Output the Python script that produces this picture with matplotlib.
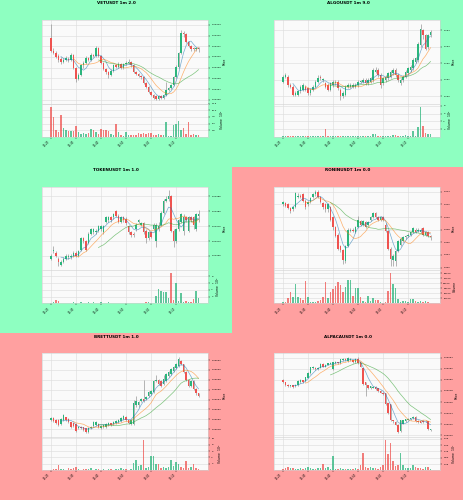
import numpy as np
import pandas as pd
import matplotlib
matplotlib.use("Agg")
import matplotlib.pyplot as plt
from matplotlib.patches import Rectangle
from matplotlib.ticker import MultipleLocator, FormatStrFormatter

W, H = 464, 500
PW, PH = W / 2, H / 3

UP, DOWN = "#2bb57c", "#ef5350"
WICK = "#8c8c8c"
BG_GOOD, BG_BAD = "#8effc1", "#ffa0a0"
MAV = (5, 10, 20)
MAV_COLORS = ("#1f77b4", "#ff7f0e", "#2ca02c")

tick_pos = [0, 10, 20, 30, 40, 50]
times = ["12:20", "12:30", "12:40", "12:50", "13:00", "13:10"]

# prices are stored as integer steps above a base price (see PANELS)
vet_open = [58,46,44,41,38,35,37,38,37,42,30,19,23,32,34,39,37,42,41,48,41,34,29,26,23,27,32,31,33,30,33,34,35,32,26,24,22,21,16,12,7,4,3,1,3,2,4,9,11,14,21,31,44,62,61,54,50,48,47,48]
vet_close = [46,44,40,37,35,37,39,37,42,30,19,23,32,34,39,37,42,41,48,41,34,29,26,23,27,32,31,33,30,33,34,35,32,26,24,22,21,16,12,7,4,2,1,3,2,4,9,11,14,21,31,44,62,61,54,50,47,47,48,47]
vet_high = [71,48,46,43,40,39,41,40,44,43,31,25,33,36,41,40,44,43,50,49,42,35,30,27,29,33,33,35,34,34,36,38,36,33,27,25,23,22,17,13,8,5,4,4,4,5,17,12,15,22,32,45,65,64,62,55,51,49,49,49]
vet_low = [45,43,39,35,33,34,36,35,36,29,17,18,22,30,33,36,36,40,40,40,33,28,24,20,22,26,30,30,29,29,32,33,31,25,23,21,19,15,11,6,3,1,0,0,1,1,3,8,10,13,20,30,43,59,53,49,46,46,46,45]
vet_vol = [11.4,7.5,2.5,1.9,8.1,3.4,2.5,2.1,2.2,2.1,4.0,1.9,1.2,1.5,1.2,1.5,3.1,2.7,1.9,1.2,3.1,2.7,2.7,2.1,1.0,0.9,4.7,1.9,0.6,0.3,1.9,0.6,0.9,0.9,0.9,1.6,1.2,1.5,1.2,1.6,1.5,0.9,0.6,1.2,0.6,0.6,5.6,0.5,0.3,4.4,5.0,6.0,2.5,3.4,1.0,5.5,0.6,1.0,0.9,0.7]

algo_open = [9,12,12,7,6,1,1,3,4,6,5,2,4,6,9,12,10,8,7,4,7,8,9,4,0,1,6,6,6,6,7,9,9,10,8,9,10,15,16,13,8,10,11,12,14,16,13,8,10,12,14,16,17,21,22,31,40,37,30,37]
algo_close = [12,13,7,6,1,2,3,6,7,4,2,4,6,9,11,11,10,6,4,8,9,9,5,0,2,6,7,7,7,7,9,9,10,8,10,11,16,16,13,7,11,12,14,15,16,13,10,10,12,15,17,18,22,23,32,41,37,29,37,39]
algo_high = [13,14,13,8,7,3,4,7,8,7,6,5,7,10,13,13,11,9,8,9,10,10,10,5,3,7,8,8,8,8,10,10,11,11,11,12,17,18,17,14,12,13,15,16,17,17,14,11,13,16,18,19,23,24,33,44,41,38,38,40]
algo_low = [8,11,6,5,0,0,0,2,3,3,1,1,3,5,8,10,9,5,3,3,6,7,4,-2,-1,0,5,5,5,5,6,8,8,7,7,8,9,14,12,5,7,9,10,11,13,12,9,7,9,11,13,15,16,20,21,30,35,28,29,36]
algo_vol = [0.2,0.1,0.2,0.1,0.3,0.2,0.1,0.2,0.1,0.1,0.2,0.3,0.2,0.3,0.2,0.1,0.2,2.0,0.2,0.1,0.3,0.2,0.2,0.3,0.1,0.1,0.2,0.1,0.1,0.2,0.2,0.1,0.1,0.2,0.1,0.2,0.8,0.6,0.3,0.2,0.1,0.2,0.2,0.1,0.4,0.4,0.3,0.2,0.1,0.5,0.3,0.2,1.4,0.3,2.5,7.8,2.8,0.9,0.8,0.6]

token_open = [8,13,12,8,4,6,8,9,9,10,12,10,14,22,20,19,25,26,26,27,28,26,33,34,36,36,40,37,33,36,35,30,26,25,28,33,31,32,27,22,26,28,20,28,31,39,47,48,50,27,20,28,33,27,36,27,36,36,28,37]
token_close = [10,14,10,6,6,8,10,10,10,12,10,13,22,20,14,25,28,28,27,30,30,30,36,36,34,38,37,33,36,34,32,26,24,24,31,34,32,26,22,26,23,31,31,30,39,47,48,50,27,20,28,34,38,36,34,36,34,31,38,38]
token_high = [11,17,13,9,7,9,11,11,11,13,13,14,23,23,21,26,29,29,28,31,31,31,37,37,37,39,41,38,37,37,36,31,27,26,32,35,33,33,28,27,27,32,32,33,40,48,50,54,51,28,29,35,39,38,37,37,37,37,39,41]
token_low = [7,12,9,3,3,5,7,8,8,9,9,9,13,19,13,18,24,25,25,26,27,25,32,33,33,35,36,32,32,33,31,25,23,23,27,32,30,25,19,21,22,27,16,27,30,38,46,47,26,16,19,27,32,24,33,26,33,28,27,33]
token_vol = [0.1,0.3,1.1,0.8,0.1,0.2,0.1,0.1,0.2,0.3,0.2,0.1,0.3,0.2,0.2,0.3,0.2,0.3,0.2,0.2,0.3,0.1,0.2,0.3,0.2,0.1,0.1,0.2,0.1,0.1,0.2,0.1,0.2,0.1,0.1,0.1,0.1,0.1,0.3,0.5,0.2,0.1,2.3,4.3,3.8,3.3,3.3,1.6,8.9,0.9,6.0,0.7,3.0,0.5,0.8,0.5,0.5,1.2,3.8,1.7]

ronin_open = [50,51,50,47,46,48,56,57,58,53,50,52,56,58,60,56,51,50,46,48,40,32,26,17,14,5,17,29,30,28,32,37,34,36,34,38,40,43,40,38,40,34,29,15,6,5,13,18,21,24,25,26,28,30,29,28,31,26,28,25]
ronin_close = [52,49,47,45,48,59,57,56,53,48,52,55,58,60,56,52,48,46,50,38,32,25,15,14,6,17,30,30,29,32,38,34,37,32,36,40,43,40,38,40,38,29,15,7,9,13,21,23,24,25,26,28,31,28,30,30,26,28,25,24]
ronin_high = [53,52,51,48,49,60,59,58,59,54,53,56,59,61,61,57,52,51,51,49,41,33,27,18,15,18,31,31,31,33,41,38,38,37,37,41,44,44,41,41,41,35,30,16,11,14,22,24,25,26,27,29,32,31,31,31,32,29,29,26]
ronin_low = [49,48,46,43,45,47,55,55,52,46,49,51,55,57,55,51,46,44,44,37,30,24,14,12,3,4,16,28,28,27,31,33,33,31,33,37,39,39,37,37,37,28,14,1,1,1,12,17,20,23,24,25,27,27,28,27,25,25,24,22]
ronin_vol = [3300,2000,10000,22000,13300,39300,12000,10000,6700,45300,13300,2000,2000,3300,5300,6700,12000,42000,10000,22000,28700,34000,43300,36700,23300,32000,47300,46000,15300,30000,30000,12000,5300,3300,15300,5300,10000,7300,7300,2000,700,2000,24000,60000,38700,30000,8700,2000,4700,5300,2000,8700,8700,5300,3300,4700,3300,4700,3300,700]

brett_open = [18,23,19,19,11,19,24,21,14,12,11,3,4,4,2,-5,2,7,9,11,2,4,5,9,12,11,12,14,16,21,24,18,11,11,48,48,57,61,61,68,71,75,97,100,98,92,98,108,112,118,124,127,139,132,115,100,88,98,82,73]
brett_close = [23,16,12,9,21,28,19,14,5,7,-3,5,3,-1,-6,2,5,14,14,4,7,8,11,12,9,14,16,18,23,26,18,12,18,53,57,54,61,58,65,75,78,98,100,92,88,102,112,115,122,125,132,143,132,115,100,88,98,81,73,68]
brett_high = [25,24,20,20,22,30,25,22,15,13,12,7,6,5,3,4,7,16,16,12,9,10,13,14,13,16,18,20,25,28,26,19,20,60,68,58,64,100,67,78,80,100,110,102,100,110,114,117,124,127,134,146,141,133,117,101,100,100,84,74]
brett_low = [16,14,10,7,9,17,17,12,3,5,-5,1,1,-3,-8,-7,0,5,7,2,0,2,3,7,7,9,10,12,14,19,16,10,9,9,45,45,54,55,59,66,69,73,95,90,86,90,96,106,110,116,122,125,130,113,98,86,86,79,70,65]
brett_vol = [0.2,0.4,0.3,1.5,0.3,0.4,0.2,0.6,0.3,0.8,0.9,0.3,0.2,0.5,0.4,0.3,0.6,0.2,0.3,0.3,0.2,0.3,0.2,0.3,0.3,0.2,0.4,0.3,0.6,0.4,0.3,0.2,0.4,2.3,3.2,1.3,1.5,9.5,0.8,1.0,4.4,4.4,2.1,1.8,0.6,0.9,0.6,1.0,3.2,1.4,2.6,1.8,1.0,0.6,2.9,0.7,1.0,2.0,0.8,0.3]

alpaca_open = [99,96,91,88,90,88,90,96,99,98,104,112,121,122,119,122,129,124,127,129,119,130,132,130,135,138,134,135,135,132,138,132,121,96,90,85,86,87,85,80,77,76,58,56,27,24,19,8,21,25,28,29,31,33,26,25,26,25,25,10]
alpaca_close = [96,90,88,90,87,91,98,99,96,105,113,123,123,119,122,129,124,127,130,130,132,132,130,137,138,135,140,138,132,138,130,124,93,90,85,88,87,83,79,77,74,56,40,27,25,19,6,27,27,29,30,31,33,25,24,23,24,26,11,11]
alpaca_high = [101,97,92,91,91,92,99,101,100,106,114,124,125,123,123,130,130,128,131,132,133,134,133,138,140,139,141,140,136,139,141,133,122,97,91,89,88,88,86,81,78,77,59,57,28,25,20,28,28,30,31,32,34,35,27,26,27,27,26,12]
alpaca_low = [95,89,87,87,86,87,89,95,95,97,103,111,120,118,118,121,123,123,126,128,118,129,129,129,134,134,133,134,131,131,129,123,90,71,84,84,85,82,78,76,73,55,38,26,23,18,4,6,20,24,27,28,30,24,23,22,23,24,9,8]
alpaca_vol = [0.05,0.1,0.12,0.08,0.1,0.06,0.05,0.08,0.05,0.1,0.12,0.1,0.06,0.05,0.08,0.1,0.24,0.1,0.15,0.05,0.57,0.05,0.04,0.08,0.05,0.04,0.06,0.05,0.04,0.1,0.05,0.2,0.67,0.15,0.1,0.12,0.1,0.08,0.05,0.12,0.2,1.21,0.63,1.1,0.36,0.18,0.2,0.68,0.2,0.08,0.1,0.08,0.2,0.12,0.08,0.1,0.05,0.12,0.15,0.05]

PANELS = [
    dict(title="VETUSDT 1m 2.0", bg=BG_GOOD, base=0.02336, unit=1e-6, step=1e-5, fmt="%.5f",
         o=vet_open, h=vet_high, l=vet_low, c=vet_close, v=vet_vol, vstep=2.5, vfmt="%.1f", vlabel="Volume  $10^{5}$"),
    dict(title="ALGOUSDT 1m 9.0", bg=BG_GOOD, base=0.1900, unit=1e-4, step=1e-3, fmt="%.3f",
         o=algo_open, h=algo_high, l=algo_low, c=algo_close, v=algo_vol, vstep=2, vfmt="%d", vlabel="Volume  $10^{5}$"),
    dict(title="TOKENUSDT 1m 1.0", bg=BG_GOOD, base=0.04360, unit=5e-6, step=5e-5, fmt="%.5f",
         o=token_open, h=token_high, l=token_low, c=token_close, v=token_vol, vstep=2, vfmt="%d", vlabel="Volume  $10^{6}$"),
    dict(title="RONINUSDT 1m 0.0", bg=BG_BAD, base=2.302, unit=2e-4, step=2e-3, fmt="%.3f",
         o=ronin_open, h=ronin_high, l=ronin_low, c=ronin_close, v=ronin_vol, vstep=10000, vfmt="%d", vlabel="Volume"),
    dict(title="BRETTUSDT 1m 1.0", bg=BG_BAD, base=0.03548, unit=1e-6, step=2e-5, fmt="%.5f",
         o=brett_open, h=brett_high, l=brett_low, c=brett_close, v=brett_vol, vstep=2, vfmt="%d", vlabel="Volume  $10^{6}$"),
    dict(title="ALPACAUSDT 1m 0.0", bg=BG_BAD, base=0.03040, unit=1e-6, step=2e-5, fmt="%.5f",
         o=alpaca_open, h=alpaca_high, l=alpaca_low, c=alpaca_close, v=alpaca_vol, vstep=0.25, vfmt="%.2f", vlabel="Volume  $10^{7}$"),
]

fig = plt.figure(figsize=(W / 100, H / 100), dpi=100)


def px_axes(x, y, w, h):
    return fig.add_axes([x / W, 1 - (y + h) / H, w / W, h / H])


def style(ax):
    ax.set_facecolor("#fafafa")
    ax.grid(True, color="#dedede", lw=0.45)
    ax.set_axisbelow(True)
    for s in ax.spines.values():
        s.set_color("#cfcfcf")
        s.set_linewidth(0.4)
    ax.yaxis.tick_right()
    ax.yaxis.set_label_position("right")
    ax.tick_params(length=1.2, width=0.3, pad=1, labelsize=1.7, colors="black")


for k, p in enumerate(PANELS):
    col, row = k % 2, k // 2
    x0, y0 = col * PW, row * PH
    fig.add_artist(Rectangle((x0 / W, 1 - (y0 + PH) / H), PW / W, PH / H,
                             transform=fig.transFigure, facecolor=p["bg"], edgecolor="none", zorder=-10))
    fig.text((x0 + 116) / W, 1 - (y0 + 3.5) / H, p["title"], ha="center", va="center",
             fontsize=3.0, fontweight="bold")

    o = p["base"] + p["unit"] * np.array(p["o"], float)
    c = p["base"] + p["unit"] * np.array(p["c"], float)
    h = p["base"] + p["unit"] * np.array(p["h"], float)
    l = p["base"] + p["unit"] * np.array(p["l"], float)
    vol = np.array(p["v"], float)
    x = np.arange(len(c))
    colors = np.where(c >= o, UP, DOWN)

    ax = px_axes(x0 + 41.7, y0 + 20, 166.6, 83.5)
    vax = px_axes(x0 + 41.7, y0 + 103.5, 166.6, 33.2)
    style(ax)
    style(vax)

    ax.vlines(x, l, h, colors=WICK, lw=0.45, zorder=2)
    span = h.max() - l.min()
    body = np.maximum(np.abs(c - o), span * 0.008)
    ax.bar(x, body, 0.72, bottom=np.minimum(o, c), color=colors, lw=0, zorder=3)
    closes = pd.Series(c)
    for w, mc in zip(MAV, MAV_COLORS):
        ax.plot(x, closes.rolling(w).mean(), color=mc, lw=0.5, alpha=0.6, zorder=4)

    ax.set_xlim(-3.7, len(c) + 2.9)
    ax.set_ylim(l.min() - span * 0.05, h.max() + span * 0.05)
    ax.yaxis.set_major_locator(MultipleLocator(p["step"]))
    ax.yaxis.set_major_formatter(FormatStrFormatter(p["fmt"]))
    ax.set_xticks(tick_pos)
    ax.tick_params(labelbottom=False)
    ax.set_ylabel("Price", fontsize=2.2, labelpad=1.5)

    vax.bar(x, vol, 0.72, color=colors, alpha=0.75, lw=0)
    vax.set_xlim(ax.get_xlim())
    vax.set_ylim(0.3 * vol.min(), 1.1 * vol.max())
    vax.yaxis.set_major_locator(MultipleLocator(p["vstep"]))
    vax.yaxis.set_major_formatter(FormatStrFormatter(p["vfmt"]))
    vax.set_xticks(tick_pos)
    vax.set_xticklabels(times, rotation=45, ha="right", fontsize=1.8)
    vax.set_ylabel(p["vlabel"], fontsize=2.2, labelpad=1.5)

fig.savefig("out.png", dpi=100)
